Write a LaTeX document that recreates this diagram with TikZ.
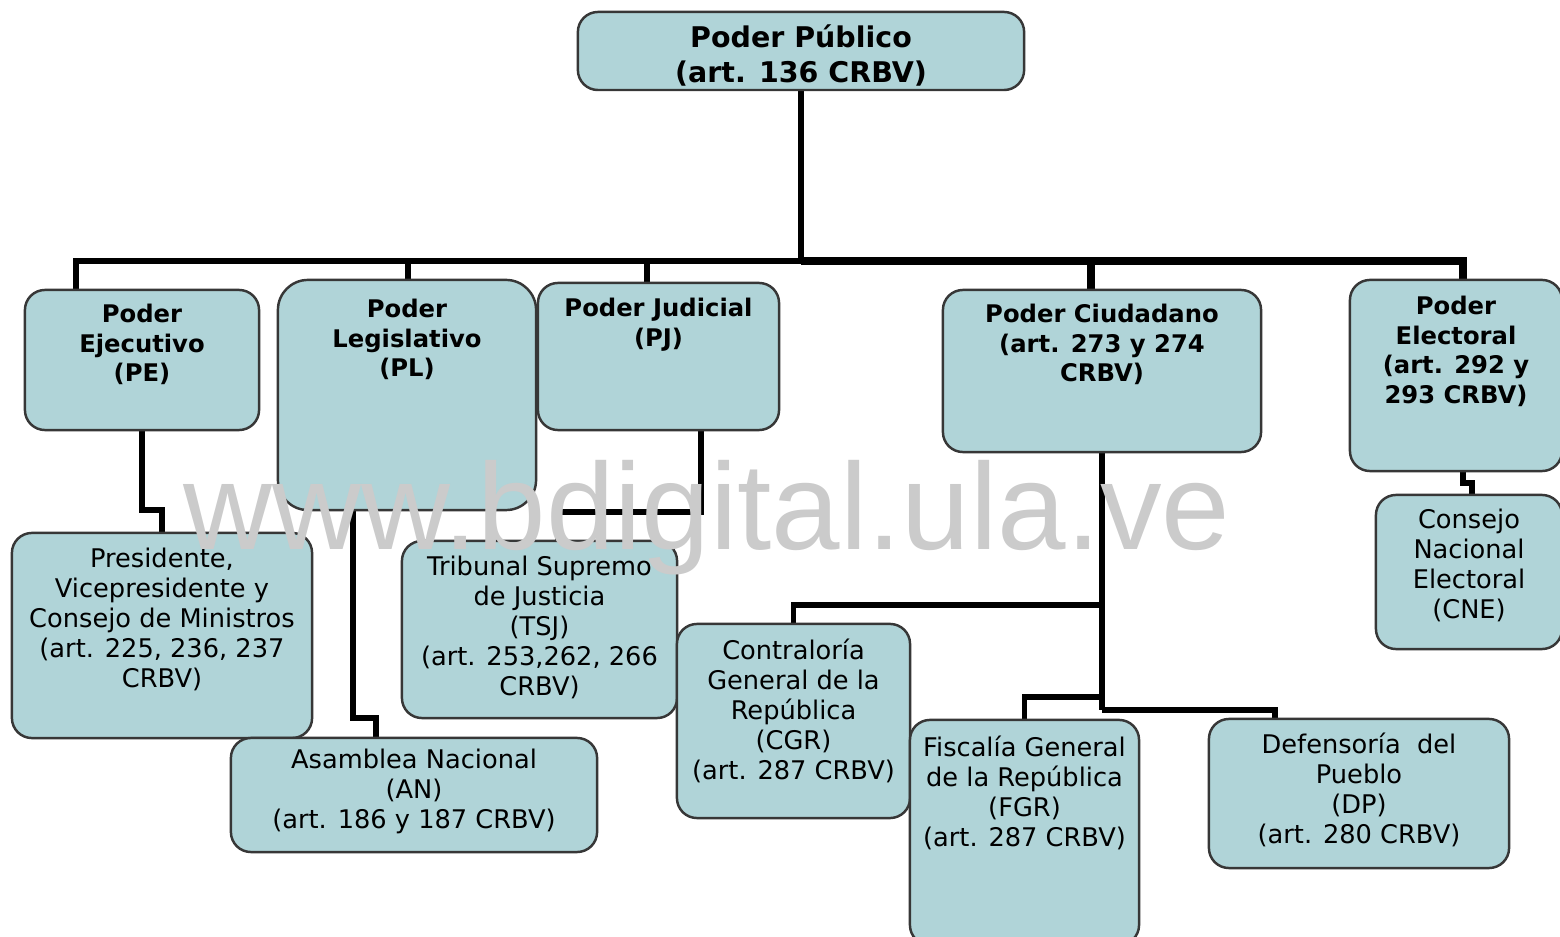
\documentclass[tikz,border=0pt]{standalone}
\usepackage{fontspec}
\setmainfont{DejaVu Sans}
\newfontfamily\wmfont{Liberation Sans}
\usetikzlibrary{positioning,backgrounds}
\definecolor{boxteal}{RGB}{176,212,216}
\definecolor{boxedge}{RGB}{55,55,55}
\definecolor{wmgray}{RGB}{203,203,203}

\begin{document}
\begin{tikzpicture}[x=0.01cm,y=-0.01cm,
  box/.style={draw=boxedge,fill=boxteal,line width=0.7pt,rounded corners=0.2cm,inner sep=0pt},
  conn/.style={black,line width=1.6pt},
  toptxt/.style={font=\fontsize{8.1}{10}\selectfont\bfseries,align=center,inner sep=0pt},
  headtxt/.style={font=\fontsize{6.9}{8.4}\selectfont\bfseries,align=center,inner sep=0pt},
  bodytxt/.style={font=\fontsize{7.3}{8.5}\selectfont,align=center,inner sep=0pt}]

\useasboundingbox (0,0) rectangle (1560,937);

%% ── boxes ───────────────────────────────────────────────────────────────────
\node[box,minimum width=4.46cm,minimum height=0.78cm] (pp) at (801,51) {};

\node[box,minimum width=2.34cm,minimum height=1.40cm] (pe) at (142,360) {};
\node[box,minimum width=2.58cm,minimum height=2.30cm,rounded corners=0.3cm] (pl) at (407,395) {};
\node[box,minimum width=2.41cm,minimum height=1.47cm] (pj) at (658.5,356.5) {};
\node[box,minimum width=3.18cm,minimum height=1.62cm] (pc) at (1102,371) {};
\node[box,minimum width=2.12cm,minimum height=1.91cm] (pel) at (1456,375.5) {};

\node[box,minimum width=3.00cm,minimum height=2.05cm] (pres) at (162,635.5) {};
\node[box,minimum width=3.66cm,minimum height=1.14cm] (an) at (414,795) {};
\node[box,minimum width=2.75cm,minimum height=1.77cm] (tsj) at (539.5,629.5) {};
\node[box,minimum width=2.33cm,minimum height=1.94cm] (cgr) at (793.5,721) {};
\node[box,minimum width=2.29cm,minimum height=2.25cm] (fgr) at (1024.5,832.5) {};
\node[box,minimum width=3.00cm,minimum height=1.49cm] (dp) at (1359,793.5) {};
\node[box,minimum width=1.86cm,minimum height=1.54cm] (cne) at (1469,572) {};

%% ── texts ───────────────────────────────────────────────────────────────────
\node[toptxt,below=0.13cm of pp.north] (pp-t) {Poder Público\\(art. 136 CRBV)};

\node[headtxt,below=0.15cm of pe.north]  (pe-t)  {Poder\\Ejecutivo\\(PE)};
\node[headtxt,below=0.2cm of pl.north]   (pl-t)  {Poder\\Legislativo\\(PL)};
\node[headtxt,below=0.16cm of pj.north]  (pj-t)  {Poder Judicial\\(PJ)};
\node[headtxt,below=0.15cm of pc.north]  (pc-t)  {Poder Ciudadano\\(art. 273 y 274\\CRBV)};
\node[headtxt,below=0.17cm of pel.north] (pel-t) {Poder\\Electoral\\(art. 292 y\\293 CRBV)};

\node[bodytxt,below=0.16cm of pres.north] (pres-t)
  {Presidente,\\Vicepresidente y\\Consejo de Ministros\\(art. 225, 236, 237\\CRBV)};
\node[bodytxt,below=0.12cm of an.north]  (an-t)
  {Asamblea Nacional\\(AN)\\(art. 186 y 187 CRBV)};
\node[bodytxt,below=0.16cm of tsj.north] (tsj-t)
  {Tribunal Supremo\\de Justicia\\(TSJ)\\(art. 253,262, 266\\CRBV)};
\node[bodytxt,below=0.16cm of cgr.north] (cgr-t)
  {Contraloría\\General de la\\República\\(CGR)\\(art. 287 CRBV)};
\node[bodytxt,below=0.17cm of fgr.north] (fgr-t)
  {Fiscalía General\\de la República\\(FGR)\\(art. 287 CRBV)};
\node[bodytxt,below=0.15cm of dp.north]  (dp-t)
  {Defensoría\ \ del\\Pueblo\\(DP)\\(art. 280 CRBV)};
\node[bodytxt,below=0.15cm of cne.north] (cne-t)
  {Consejo\\Nacional\\Electoral\\(CNE)};

%% ── connectors (behind the boxes) ───────────────────────────────────────────
\begin{scope}[on background layer]
\coordinate (bus) at (801,261);
\draw[conn] (pp.south) -- (bus);
\draw[conn] (bus) -| (76,0 |- pe.north);
\draw[conn] (bus) -| (408,0 |- pl.north);
\draw[conn] (bus) -| (647,0 |- pj.north);
\draw[conn,line width=2pt] (bus) -| (1091,0 |- pc.north);
\draw[conn,line width=2pt] (bus) -| (1463,0 |- pel.north);

%% executive / legislative / judicial
\draw[conn] (pe.south) -- (142,510) -| (pres.north);
\draw[conn] (353,0 |- pl.south) -- (353,718) -| (376,0 |- an.north);
\draw[conn] (701,0 |- pj.south) -- (701,512) -| (558,0 |- tsj.north);

%% citizen power
\draw[conn] (pc.south) -- (1102,710);
\draw[conn] (1102,605) -| (cgr.north);
\draw[conn] (1102,697) -| (fgr.north);
\draw[conn] (1102,710) -| (1275,0 |- dp.north);

%% electoral power
\draw[conn] (1463,0 |- pel.south) -- (1463,483) -| (1472,0 |- cne.north);
\end{scope}

%% ── watermark ───────────────────────────────────────────────────────────────
\node[wmgray,font=\wmfont\fontsize{35}{35}\selectfont,anchor=base,inner sep=0pt]
  (wm) at (707,550) {www.bdigital.ula.ve};

\end{tikzpicture}
\end{document}
